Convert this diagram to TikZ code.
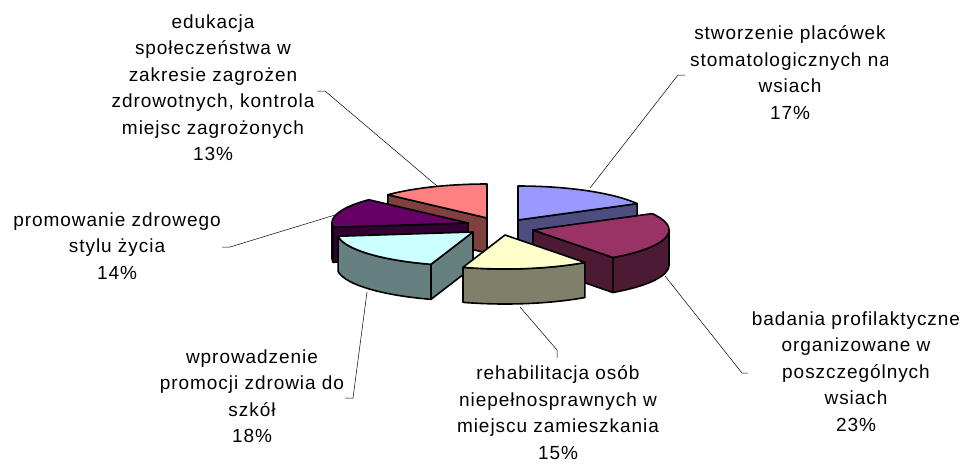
\documentclass[tikz,border=0pt]{standalone}
\usepackage{fontspec}
\setmainfont[LetterSpace=5]{Liberation Sans}

\definecolor{niebieski}{HTML}{9999FF}
\definecolor{niebieskibok}{HTML}{4D4D80}
\definecolor{sliwka}{HTML}{993366}
\definecolor{sliwkabok}{HTML}{4D1A33}
\definecolor{kremowy}{HTML}{FFFFCC}
\definecolor{kremowybok}{HTML}{80806A}
\definecolor{turkus}{HTML}{CCFFFF}
\definecolor{turkusbok}{HTML}{668080}
\definecolor{fiolet}{HTML}{660066}
\definecolor{fioletbok}{HTML}{330033}
\definecolor{koral}{HTML}{FF8080}
\definecolor{koralbok}{HTML}{804040}

% wycinek: czubek x, czubek y, od, do, kolor
\newcommand{\wierzch}[5]{%
	\filldraw[krawedz, fill=#5] (#1,#2) -- plot[domain=#3:#4, samples=40] ({#1+136*sin(\x)},{#2-34*cos(\x)}) -- cycle;}
\newcommand{\lukbok}[5]{%
	\filldraw[krawedz, fill=#5] plot[domain=#3:#4, samples=30] ({#1+136*sin(\x)},{#2-34*cos(\x)})
		-- plot[domain=#3:#4, samples=30] ({#1+136*sin(#3+#4-\x)},{#2+35-34*cos(#3+#4-\x)}) -- cycle;}
\newcommand{\promien}[4]{%
	\filldraw[krawedz, fill=#4] (#1,#2) -- ++({136*sin(#3)},{-34*cos(#3)}) -- ++(0,35) -- ++({-136*sin(#3)},{34*cos(#3)}) -- cycle;}

\begin{document}
\begin{tikzpicture}[x=1pt, y=-1pt,
	krawedz/.style={draw=black, line width=1.6pt, line join=round},
	odnosnik/.style={line width=0.5pt},
	etykieta/.style={align=center, anchor=north, inner sep=0pt, font=\fontsize{19}{26.5}\selectfont}]
\useasboundingbox (0,0) rectangle (974,463);

% etykiety
\begin{scope}
	\clip (0,0) rectangle (316,200);
	\node[etykieta] (edu) at (213,14.3) {edukacja\\społeczeństwa w\\zakresie zagrożen\\zdrowotnych, kontrola\\miejsc zagrożonych\\13\%};
\end{scope}
\begin{scope}
	\clip (600,0) rectangle (887,200);
	\node[etykieta] (stom) at (790,25.8) {stworzenie placówek\\stomatologicznych na\\wsiach\\17\%};
\end{scope}
\begin{scope}
	\clip (700,290) rectangle (960,463);
	\node[etykieta] (bad) at (856,311.3) {badania profilaktyczne\\organizowane w\\poszczególnych\\wsiach\\23\%};
\end{scope}
\begin{scope}
	\clip (400,340) rectangle (658,463);
	\node[etykieta] (reh) at (558,365.8) {rehabilitacja osób\\niepełnosprawnych w\\miejscu zamieszkania\\15\%};
\end{scope}
\node[etykieta] (szk) at (252,349.3) {wprowadzenie\\promocji zdrowia do\\szkół\\18\%};
\begin{scope}
	\clip (0,190) rectangle (219,300);
	\node[etykieta] (styl) at (117,212.3) {promowanie zdrowego\\stylu życia\\14\%};
\end{scope}

% odnosniki
\coordinate (edu-k) at (317,91);
\coordinate (edu-p) at (437,186);
\coordinate (stom-k) at (685,75);
\coordinate (stom-p) at (590,188);
\coordinate (bad-k) at (748,373);
\coordinate (bad-p) at (665,276);
\coordinate (reh-k) at (557,358);
\coordinate (reh-p) at (520,307);
\coordinate (szk-k) at (345,398);
\coordinate (szk-p) at (367,292);
\coordinate (styl-k) at (222,247);
\coordinate (styl-p) at (335,215);
\draw[odnosnik] (edu-k) -- ++(8,0) -- (edu-p);
\draw[odnosnik] (stom-k) -- ++(-7,0) -- (stom-p);
\draw[odnosnik] (bad-k) -- ++(-6,0) -- (bad-p);
\draw[odnosnik] (reh-k) -- ++(0,-8) -- (reh-p);
\draw[odnosnik] (szk-k) -- ++(8,0) -- (szk-p);
\draw[odnosnik] (styl-k) -- ++(8,0) -- (styl-p);

% edukacja 13%
\promien{487}{218}{313.2}{koralbok}
\wierzch{487}{218}{313.2}{360}{koral}
% stworzenie 17%
\promien{518}{220}{61.2}{niebieskibok}
\wierzch{518}{220}{0}{61.2}{niebieski}
% promowanie 14%
\promien{468}{223}{262.8}{fioletbok}
\lukbok{468}{223}{262.8}{270}{fioletbok}
\wierzch{468}{223}{262.8}{313.2}{fiolet}
% badania 23%
\promien{533}{230}{144}{sliwkabok}
\lukbok{533}{230}{90}{144}{sliwkabok}
\wierzch{533}{230}{61.2}{144}{sliwka}
% wprowadzenie 18%
\promien{473}{232}{198}{turkusbok}
\lukbok{473}{232}{198}{262.8}{turkusbok}
\wierzch{473}{232}{198}{262.8}{turkus}
% rehabilitacja 15%
\lukbok{505}{235}{144}{198}{kremowybok}
\wierzch{505}{235}{144}{198}{kremowy}
\end{tikzpicture}
\end{document}
